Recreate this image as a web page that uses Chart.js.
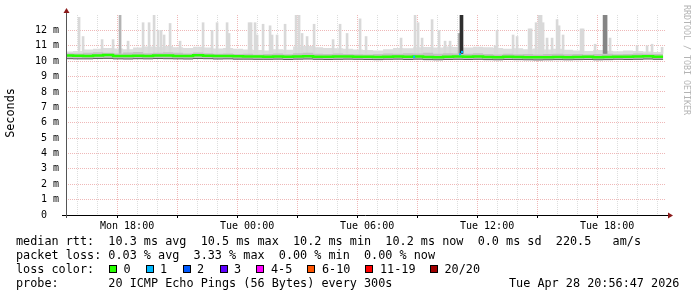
<!DOCTYPE html>
<html>
<head>
<meta charset="utf-8">
<title>SmokePing latency</title>
<script src="https://cdn.jsdelivr.net/npm/chart.js@4.4.1/dist/chart.umd.min.js"></script>
<style>
  html, body { margin: 0; padding: 0; background: #fff; }
  #wrap { position: relative; width: 697px; height: 297px; overflow: hidden; font-family: "DejaVu Sans Mono", monospace; color: #000; }
  #chart { position: absolute; left: 0; top: 0; }
  .row { position: absolute; left: 16px; font-size: 11.8px; line-height: 14px; white-space: pre; }
  .sw { position: absolute; top: 265px; width: 6px; height: 6px; border: 1px solid #000; }
  .lbl { position: absolute; top: 262px; font-size: 11.8px; line-height: 14px; white-space: pre; }
  #ytitle { position: absolute; left: -30px; top: 106px; width: 80px; text-align: center; font-size: 11.8px; line-height: 14px; transform: rotate(-90deg); }
  #brand { position: absolute; left: 681px; top: 5px; font-size: 8.3px; line-height: 11px; writing-mode: vertical-rl; color: #b4b4b4; white-space: pre; }
</style>
</head>
<body>
<div id="wrap">
  <canvas id="chart" width="697" height="297"></canvas>
  <div id="ytitle">Seconds</div>
  <div id="brand">RRDTOOL / TOBI OETIKER</div>
  <div class="row" style="top:234px">median rtt:  10.3 ms avg  10.5 ms max  10.2 ms min  10.2 ms now  0.0 ms sd  220.5   am/s</div>
  <div class="row" style="top:248px">packet loss: 0.03 % avg  3.33 % max  0.00 % min  0.00 % now</div>
  <div class="row" style="top:262px">loss color:</div>
  <div id="losskey"></div>
  <div class="row" style="top:276px">probe:       20 ICMP Echo Pings (56 Bytes) every 300s</div>
  <div class="row" style="top:276px; left:509px">Tue Apr 28 20:56:47 2026</div>
</div>
<script>
// time axis in hours counted from Mon 00:00
const X_MIN = 14.946;   // Mon 14:56:47
const X_MAX = 44.946;   // Tue 20:56:47
const START_HOUR = 14.8;
const STEP_HOURS = 0.5;

// median rtt per half hour (ms)
const medianRtt = [
  10.36, 10.35, 10.34, 10.36, 10.40, 10.34, 10.33, 10.35, 10.34, 10.37,
  10.36, 10.34, 10.33, 10.38, 10.35, 10.33, 10.34, 10.32, 10.31, 10.30,
  10.29, 10.30, 10.28, 10.30, 10.32, 10.29, 10.28, 10.30, 10.31, 10.29,
  10.28, 10.27, 10.29, 10.30, 10.28, 10.31, 10.27, 10.26, 10.28, 10.30,
  10.29, 10.30, 10.27, 10.26, 10.28, 10.27, 10.26, 10.25, 10.26, 10.27,
  10.26, 10.27, 10.28, 10.26, 10.27, 10.29, 10.28, 10.30, 10.32, 10.29
];
// upper edge of the light smoke
const smokeTop = [
  10.62, 10.66, 10.75, 10.80, 10.86, 10.82, 10.78, 10.88, 10.95, 10.92,
  10.98, 10.90, 10.85, 10.94, 10.88, 10.82, 10.86, 10.80, 10.76, 10.72,
  10.70, 10.78, 10.74, 10.96, 10.99, 10.90, 10.86, 10.84, 10.80, 10.76,
  10.72, 10.70, 10.78, 10.86, 10.84, 10.90, 10.92, 10.88, 10.96, 10.92,
  10.88, 10.94, 10.90, 10.86, 10.80, 10.84, 10.78, 10.82, 10.76, 10.80,
  10.74, 10.70, 10.66, 10.72, 10.68, 10.64, 10.70, 10.66, 10.62, 10.60
];
// upper edge of the denser smoke near the median
const smokeMid = [
  10.52, 10.50, 10.55, 10.58, 10.54, 10.50, 10.56, 10.60, 10.52, 10.55,
  10.58, 10.54, 10.50, 10.56, 10.52, 10.48, 10.50, 10.46, 10.48, 10.44,
  10.46, 10.50, 10.45, 10.52, 10.55, 10.48, 10.46, 10.50, 10.47, 10.45,
  10.44, 10.46, 10.50, 10.48, 10.52, 10.50, 10.55, 10.48, 10.52, 10.50,
  10.48, 10.52, 10.46, 10.44, 10.48, 10.45, 10.47, 10.44, 10.46, 10.48,
  10.45, 10.47, 10.44, 10.46, 10.48, 10.45, 10.47, 10.50, 10.48, 10.46
];
// lowest ping per half hour
const smokeLow = [
  10.16, 10.15, 10.15, 10.17, 10.18, 10.15, 10.14, 10.16, 10.15, 10.17,
  10.16, 10.15, 10.14, 10.17, 10.16, 10.14, 10.15, 10.13, 10.13, 10.12,
  10.12, 10.13, 10.11, 10.13, 10.14, 10.12, 10.11, 10.12, 10.13, 10.12,
  10.11, 10.10, 10.12, 10.13, 10.11, 10.13, 10.10, 10.09, 10.11, 10.12,
  10.11, 10.12, 10.10, 10.09, 10.11, 10.10, 10.09, 10.08, 10.09, 10.10,
  10.09, 10.10, 10.11, 10.09, 10.10, 10.12, 10.11, 10.12, 10.14, 10.12
];

// single slow pings (hour, max rtt in ms)
const SPIKE_BASE = 10.5;
const spikeHours = [
  15.60, 15.80, 16.75, 17.30, 18.05, 18.80, 19.10, 19.35, 19.55, 19.70,
  19.85, 20.15, 20.65, 21.80, 22.25, 22.50, 23.00, 23.10, 24.10, 24.20,
  24.40, 24.50, 24.80, 25.15, 25.25, 25.50, 25.90, 26.45, 26.60, 26.75,
  27.00, 27.35, 28.30, 28.65, 29.00, 29.65, 29.95, 31.70, 32.40, 32.55,
  32.75, 33.25, 33.60, 33.90, 34.15, 36.40, 36.50, 37.30, 37.50, 38.10,
  38.20, 38.45, 38.60, 38.70, 38.80, 39.00, 39.25, 39.50, 39.60, 39.80,
  40.70, 40.80, 41.40, 42.15, 43.50, 44.00, 44.25, 44.75
];
const spikeTops = [
  12.85, 11.60, 11.40, 11.40, 11.30, 12.50, 12.50, 13.00, 12.00, 12.00,
  11.70, 12.45, 11.30, 12.50, 12.00, 12.50, 12.50, 11.80, 12.50, 12.50,
  12.50, 11.70, 12.40, 12.30, 11.70, 11.70, 12.40, 13.00, 13.00, 11.80,
  11.60, 12.40, 11.40, 12.40, 11.80, 12.75, 11.60, 11.50, 13.00, 12.50,
  11.50, 12.70, 12.00, 11.30, 11.30, 11.00, 12.00, 11.70, 11.60, 12.10,
  12.10, 12.50, 13.00, 13.00, 12.50, 11.50, 11.50, 12.70, 12.30, 11.70,
  12.10, 12.10, 11.10, 11.50, 11.00, 11.00, 11.10, 10.90
];
// denser bursts of slow pings
const midSpikeHours = [17.65, 34.60];
const midSpikeTops = [13.0, 11.8];
const greySpikeHours = [41.85, 41.95];
const greySpikeTops = [13.0, 13.0];
const darkSpikeHours = [34.72];
const darkSpikeTops = [13.0];

// median samples with 1 of 20 pings lost
const lossHours = [32.35, 34.65, 34.75];
const lossRtt = [10.28, 10.45, 10.60];

const yTicks = [0, 0.5, 1, 1.5, 2, 2.5, 3, 3.5, 4, 4.5, 5, 5.5, 6, 6.5, 7, 7.5, 8, 8.5, 9, 9.5, 10, 10.5, 11, 11.5, 12, 12.5];
const xTicks = [15, 16, 17, 18, 19, 20, 21, 22, 23, 24, 25, 26, 27, 28, 29, 30, 31, 32, 33, 34, 35, 36, 37, 38, 39, 40, 41, 42, 43, 44];
const xLabels = { 18: "Mon 18:00", 24: "Tue 00:00", 30: "Tue 06:00", 36: "Tue 12:00", 42: "Tue 18:00" };

const lossColors = ["#26ff00", "#00b8ff", "#0059ff", "#5e00ff", "#ff00ff", "#ff5500", "#ff0000", "#a00000"];
const lossNames = ["0", "1", "2", "3", "4-5", "6-10", "11-19", "20/20"];
const swatchX = [109, 146, 183, 220, 256, 307, 365, 430];
const labelX = [123.5, 160, 197, 234, 271, 322, 380, 444.5];

// legend of loss colours
const key = document.getElementById("losskey");
lossNames.forEach((name, i) => {
  const sw = document.createElement("div");
  sw.className = "sw";
  sw.style.left = swatchX[i] + "px";
  sw.style.background = lossColors[i];
  key.appendChild(sw);
  const lb = document.createElement("div");
  lb.className = "lbl";
  lb.style.left = labelX[i] + "px";
  lb.textContent = name;
  key.appendChild(lb);
});

function steps(values) {
  const pts = values.map((v, i) => ({ x: START_HOUR + i * STEP_HOURS, y: v }));
  pts.push({ x: START_HOUR + values.length * STEP_HOURS, y: values[values.length - 1] });
  return pts;
}
function bars(hours, tops) {
  return hours.map((h, i) => ({ x: h, y: [SPIKE_BASE, tops[i]] }));
}

const MAJOR = "#efb8b8";
const MINOR = "#dddddd";

const axisArrows = {
  id: "axisArrows",
  afterDraw(chart) {
    const { ctx, chartArea: a } = chart;
    ctx.save();
    ctx.lineWidth = 1;
    ctx.strokeStyle = "#000";
    ctx.beginPath();
    ctx.moveTo(a.left - 4, a.bottom + 0.5);
    ctx.lineTo(a.right + 3, a.bottom + 0.5);
    ctx.stroke();
    ctx.strokeStyle = "#555";
    ctx.beginPath();
    ctx.moveTo(a.left + 0.5, a.bottom + 3);
    ctx.lineTo(a.left + 0.5, a.top - 3);
    ctx.stroke();
    ctx.fillStyle = "#8b1a1a";
    ctx.beginPath();
    ctx.moveTo(a.right + 2, a.bottom - 2.5);
    ctx.lineTo(a.right + 7, a.bottom + 0.5);
    ctx.lineTo(a.right + 2, a.bottom + 3.5);
    ctx.fill();
    ctx.beginPath();
    ctx.moveTo(a.left - 2.5, a.top - 2);
    ctx.lineTo(a.left + 0.5, a.top - 7);
    ctx.lineTo(a.left + 3.5, a.top - 2);
    ctx.fill();
    ctx.restore();
  }
};

const line = { type: "line", stepped: true, pointRadius: 0, borderWidth: 0, tension: 0 };

new Chart(document.getElementById("chart"), {
  type: "line",
  data: {
    datasets: [
      { ...line, data: steps(smokeLow), borderColor: "#5a5a5a", borderWidth: 1, fill: false, order: 2 },
      { ...line, data: steps(smokeTop), backgroundColor: "#dddddd", fill: 0, order: 8 },
      { ...line, data: steps(smokeMid), backgroundColor: "#c2c2c2", fill: 0, order: 6 },
      { type: "bar", data: bars(spikeHours, spikeTops), backgroundColor: "#d9d9d9", barThickness: 2, grouped: false, order: 7 },
      { type: "bar", data: bars(midSpikeHours, midSpikeTops), backgroundColor: "#b3b3b3", barThickness: 2, grouped: false, order: 5 },
      { type: "bar", data: bars(greySpikeHours, greySpikeTops), backgroundColor: "#858585", barThickness: 2, grouped: false, order: 4 },
      { type: "bar", data: bars(darkSpikeHours, darkSpikeTops), backgroundColor: "#2e2e2e", barThickness: 3, grouped: false, order: 3 },
      { ...line, data: steps(medianRtt), borderColor: "#26ff00", borderWidth: 2.5, fill: false, order: 1 },
      { type: "line", showLine: false, data: lossHours.map((h, i) => ({ x: h, y: lossRtt[i] })),
        pointStyle: "rect", pointRadius: 1.5, pointBorderWidth: 0, pointBackgroundColor: "#00b8ff", order: 0 }
    ]
  },
  options: {
    responsive: false,
    devicePixelRatio: 1,
    animation: false,
    layout: { padding: { left: 0, right: 31, top: 15, bottom: 0 } },
    plugins: { legend: { display: false }, tooltip: { enabled: false } },
    scales: {
      x: {
        type: "linear",
        min: X_MIN,
        max: X_MAX,
        offset: false,
        afterBuildTicks: (s) => { s.ticks = xTicks.map((v) => ({ value: v })); },
        afterFit: (s) => { s.height = 82; },
        border: { display: false, dash: [1, 1] },
        grid: {
          color: (c) => (c.tick && c.tick.value % 3 === 0 ? MAJOR : MINOR),
          tickColor: (c) => (c.tick && c.tick.value % 3 === 0 ? "#000" : "rgba(0,0,0,0)"),
          tickLength: 3
        },
        ticks: {
          autoSkip: false,
          maxRotation: 0,
          padding: 2,
          color: "#000",
          font: { family: "DejaVu Sans Mono", size: 10 },
          callback: (v) => xLabels[v] || ""
        }
      },
      y: {
        type: "linear",
        min: 0,
        max: 13,
        afterBuildTicks: (s) => { s.ticks = yTicks.map((v) => ({ value: v })); },
        afterFit: (s) => { s.width = 66; },
        border: { display: false, dash: [1, 1] },
        grid: {
          color: (c) => (c.tick && c.tick.value % 1 === 0 ? MAJOR : MINOR),
          drawTicks: false
        },
        ticks: {
          padding: 7,
          color: "#000",
          font: { family: "DejaVu Sans Mono", size: 10 },
          callback: (v) => (v % 1 !== 0 ? "" : v === 0 ? "0  " : v + " m")
        }
      }
    }
  },
  plugins: [axisArrows]
});
</script>
</body>
</html>
